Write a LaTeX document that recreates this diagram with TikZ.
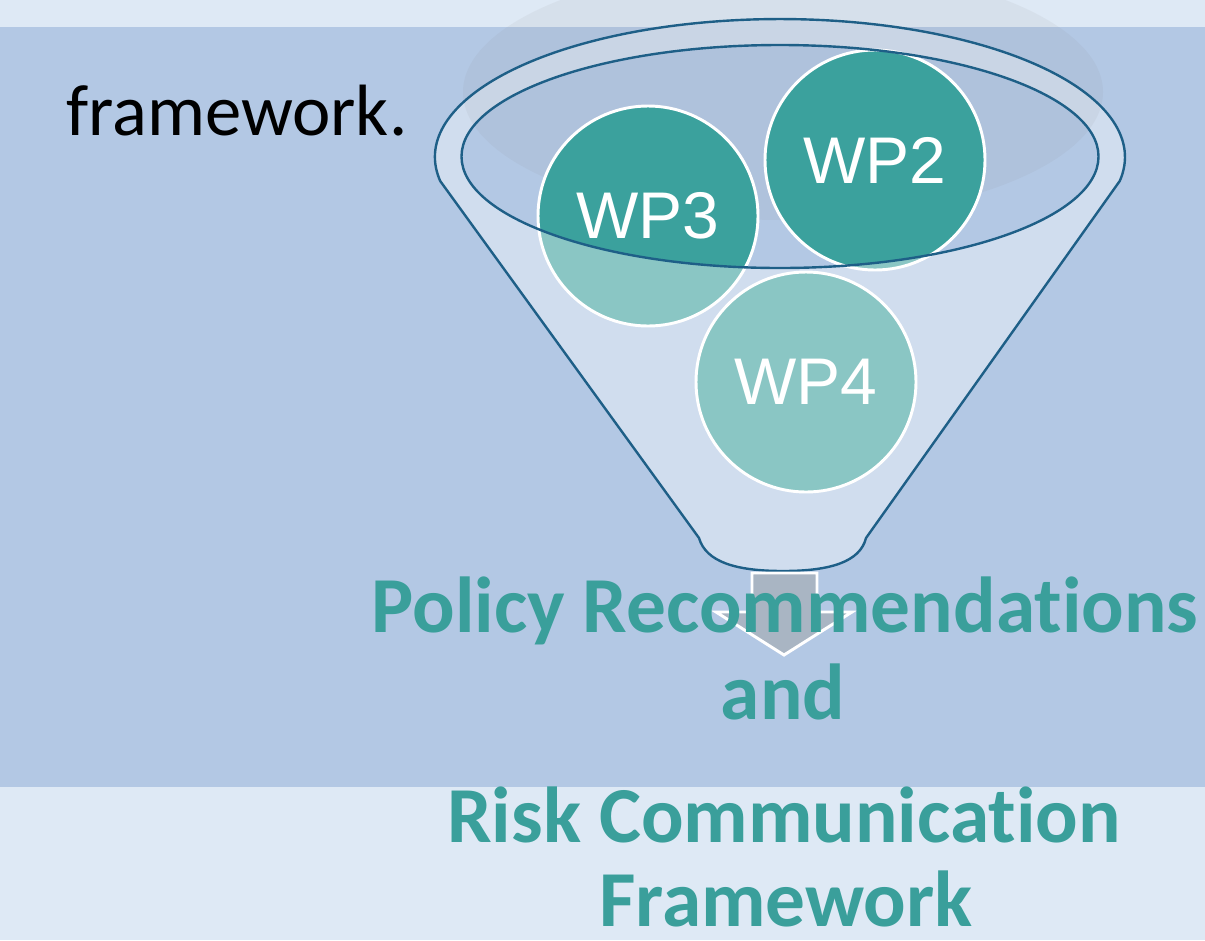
\documentclass[tikz,border=0pt]{standalone}
\usepackage{fontspec}
\setmainfont{Carlito}[Ligatures={NoCommon}]
\newfontfamily\arialfont{Liberation Sans}
\definecolor{bandc}{RGB}{222,233,245}
\definecolor{mainc}{RGB}{179,200,228}
\definecolor{rimc}{RGB}{208,221,238}
\definecolor{linec}{RGB}{30,95,135}
\definecolor{tealdark}{RGB}{59,161,157}
\definecolor{teallight}{RGB}{138,198,196}
\definecolor{arrowc}{RGB}{169,181,195}
\definecolor{titlec}{RGB}{58,159,155}
\begin{document}
\begin{tikzpicture}[x=0.75pt,y=-0.75pt,
  wpnode/.style={circle, draw=white, line width=2.2pt, minimum size=165pt, inner sep=0pt,
    text=white, font=\arialfont\fontsize{49.5}{49.5}\selectfont},
  titletext/.style={anchor=base, inner sep=0pt, text=titlec, font=\bfseries\fontsize{59.5}{59.5}\selectfont},
  funnelline/.style={draw=linec, line width=1.8pt}]
\useasboundingbox (0,0) rectangle (1205,940);
% background bands
\fill[bandc] (0,0) rectangle (1205,940);
\fill[mainc] (0,27) rectangle (1205,787);
% funnel body
\path[fill=rimc] (440.2,181) arc[start angle=170,end angle=370,x radius=345,y radius=138]
  -- (866,538) .. controls (860,562) and (830,571) .. (783,571)
  .. controls (736,571) and (706,562) .. (699,538) -- cycle;
% opening
\fill[mainc] (780,156.5) ellipse [x radius=318.5, y radius=111.5];
% soft shadow
\fill[gray, opacity=0.08] (783,92) ellipse [x radius=320, y radius=128];
% funnel outline
\path[funnelline] (440.2,181) arc[start angle=170,end angle=370,x radius=345,y radius=138]
  -- (866,538) .. controls (860,562) and (830,571) .. (783,571)
  .. controls (736,571) and (706,562) .. (699,538) -- cycle;
% circles
\fill[teallight] (648,216) circle (110);
\fill[teallight] (875,160) circle (110);
\fill[teallight] (806,382) circle (110);
\begin{scope}
  \clip (780,156.5) ellipse [x radius=318.5, y radius=111.5];
  \fill[tealdark] (648,216) circle (110);
  \fill[tealdark] (875,160) circle (110);
\end{scope}
\node[wpnode] (wp3) at (648,216) {WP3};
\node[wpnode] (wp2) at (875,160) {WP2};
\node[wpnode] (wp4) at (806,382) {WP4};
% inner rim line
\draw[funnelline] (780,156.5) ellipse [x radius=318.5, y radius=111.5];
% arrow
\path[fill=arrowc, draw=white, line width=2.2pt] (752,573) -- (817,573) -- (817,612) -- (852,612)
  -- (784,655) -- (716,612) -- (752,612) -- cycle;
% texts
\node[anchor=base west, inner sep=0pt, font=\fontsize{54.5}{54.5}\selectfont] (fw) at (66,135) {framework.};
\node[titletext] (t1) at (785,632) {Policy Recommendations};
\node[titletext] (t2) at (783,719) {and};
\node[titletext] (t3) at (784,842) {Risk Communication};
\node[titletext] (t4) at (786,926) {Framework};
\end{tikzpicture}
\end{document}
